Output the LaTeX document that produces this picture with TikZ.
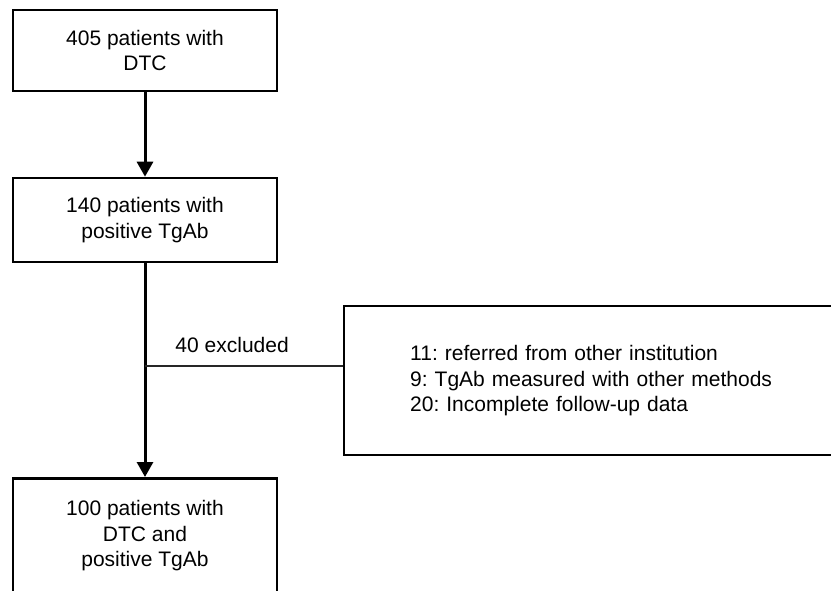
\documentclass[tikz,border=0pt]{standalone}
\usepackage{fontspec}
\setmainfont{Liberation Sans}
\usetikzlibrary{arrows.meta,positioning}
\frenchspacing

\begin{document}
\begin{tikzpicture}[x=0.5pt,y=-0.5pt,
  font=\fontsize{10.5}{12.8}\selectfont,
  box/.style={draw,line width=1.3pt,minimum width=132pt,align=center},
  exclbox/.style={draw,line width=1.2pt,align=left,inner xsep=33pt,text width=215pt},
  flow/.style={line width=1.5pt,-{Triangle[length=7.5pt,width=8pt]}}]
\useasboundingbox (0,0) rectangle (831,590);
\node[box,minimum height=40.5pt] (dtc) at (145,50.5) {405 patients with\\DTC};
\node[box,minimum height=42pt] (tgab) at (145,220) {140 patients with\\positive TgAb};
\node[box,anchor=north,inner ysep=11pt,text depth=60pt] (final) at (145,477)
  {100 patients with\\DTC and\\positive TgAb};
\node[exclbox,anchor=north west,minimum height=74.5pt] (excl) at (343,305)
  {11: referred from other institution\\9: TgAb measured with other methods\\20: Incomplete follow-up data};
\draw[flow] (dtc) -- (tgab);
\draw[flow] (tgab) -- (final);
% side branch to the excluded box
\coordinate (split) at (145,366);
\draw[line width=0.6pt,black!85] (split) -- node[pos=0.44,anchor=base,yshift=6.75pt,text=black] (exnum) {40 excluded} (split -| excl.west);
\end{tikzpicture}
\end{document}
